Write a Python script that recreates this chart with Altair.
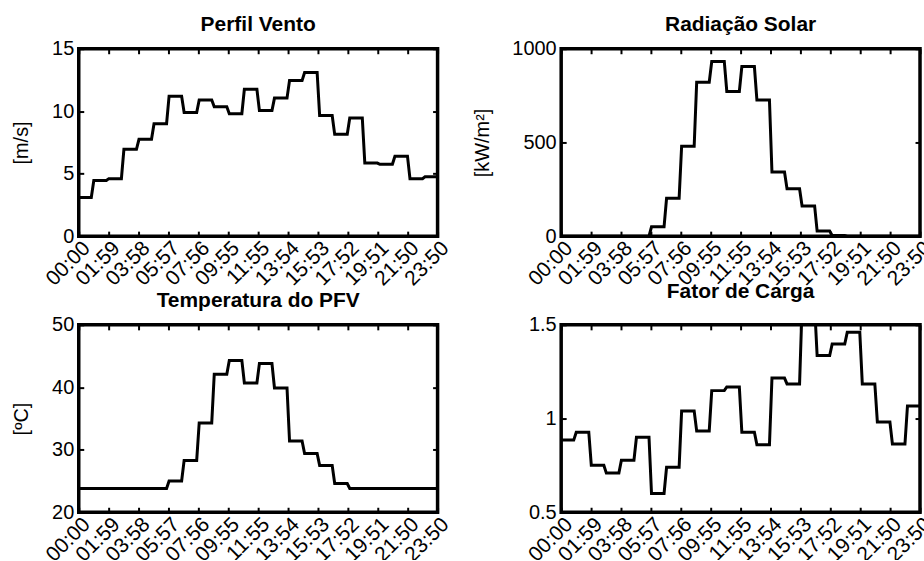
import altair as alt
import pandas as pd

# ---- data (hourly values, each held for one hour at 10-min sampling) ----
horas = list(range(24))
vento = [3.1, 4.45, 4.6, 6.95, 7.75, 9.0, 11.2, 9.9, 10.9, 10.35, 9.8, 11.75,
         10.05, 11.05, 12.45, 13.1, 9.65, 8.15, 9.45, 5.85, 5.75, 6.4, 4.6, 4.75]
radiacao = [0, 0, 0, 0, 0, 0, 50, 202, 480, 821, 932, 772,
            905, 726, 342, 253, 161, 27, 4, 0, 0, 0, 0, 0]
temperatura = [23.8, 23.8, 23.8, 23.8, 23.8, 23.8, 25.0, 28.3, 34.3, 42.1, 44.3, 40.7,
               43.8, 39.9, 31.4, 29.4, 27.5, 24.6, 23.8, 23.8, 23.8, 23.8, 23.8, 23.8]
fator = [0.885, 0.927, 0.751, 0.709, 0.778, 0.9, 0.6, 0.74, 1.04, 0.933, 1.149, 1.169,
         0.927, 0.86, 1.216, 1.185, 1.6, 1.336, 1.398, 1.46, 1.185, 0.982, 0.864, 1.067]

xtick_labels = ["00:00", "01:59", "03:58", "05:57", "07:56", "09:55", "11:55",
                "13:54", "15:53", "17:52", "19:51", "21:50", "23:50"]
xtick_values = [int(s[:2]) * 60 + int(s[3:]) for s in xtick_labels]

FONT = "Liberation Sans"
FS = 20
XFS = 21
TFS = 21
TICK = 5


def build_df(values):
    rows = []
    for h, v in zip(horas, values):
        rows.append({"minuto": h * 60, "valor": v})
        rows.append({"minuto": h * 60 + 50, "valor": v})
    return pd.DataFrame(rows)


label_expr = "[{}][indexof([{}], datum.value)]".format(
    ",".join("'%s'" % s for s in xtick_labels),
    ",".join(str(v) for v in xtick_values))


def panel(values, title, ytitle, ydomain, yticks, tpad):
    df = build_df(values)
    xs = alt.Scale(domain=[0, xtick_values[-1]], nice=False, zero=False)
    ys = alt.Scale(domain=ydomain, nice=False, zero=False)
    common = dict(grid=False, domain=False, ticks=True, tickSize=TICK, tickWidth=2,
                  tickColor="black", offset=-TICK)
    main = alt.Chart(df).mark_line(color="black", strokeWidth=3, clip=True).encode(
        x=alt.X("minuto:Q", scale=xs,
                axis=alt.Axis(orient="bottom", values=xtick_values, labelExpr=label_expr,
                              title=None, labelAngle=-45, labelAlign="right",
                              labelBaseline="top", labelPadding=1, labelFont=FONT,
                              labelFontSize=XFS, labelColor="black", labelOverlap=False,
                              labelFlush=False, minExtent=0, **common)),
        y=alt.Y("valor:Q", scale=ys,
                axis=alt.Axis(orient="left", values=yticks, title=ytitle,
                              labelExpr="'' + datum.value",
                              titleFont=FONT, titleFontSize=FS, titleFontWeight="normal",
                              titleColor="black", titlePadding=tpad,
                              labelFont=FONT, labelFontSize=FS, labelColor="black",
                              labelPadding=5, labelOverlap=False, labelFlush=False,
                              minExtent=0, **common)),
    )
    aux = alt.Chart(df).mark_line(opacity=0).encode(
        x=alt.X("minuto:Q", scale=xs,
                axis=alt.Axis(orient="top", values=xtick_values, labels=False, title=None,
                              minExtent=0, maxExtent=0, **common)),
        y=alt.Y("valor:Q", scale=ys,
                axis=alt.Axis(orient="right", values=yticks, labels=False, title=None,
                              minExtent=0, maxExtent=0, **common)),
    )
    return alt.layer(main, aux).resolve_axis(x="independent", y="independent").properties(
        width=360, height=188,
        title=alt.Title(title, font=FONT, fontSize=TFS, fontWeight="bold", color="black",
                        anchor="middle", baseline="alphabetic", offset=-13),
    )


p1 = panel(vento, "Perfil Vento", "[m/s]", [0, 15], [0, 5, 10, 15], 20)
p2 = panel(radiacao, "Radiação Solar", "[kW/m²]", [0, 1000], [0, 500, 1000], 19)
p3 = panel(temperatura, "Temperatura do PFV", "[ºC]", [20, 50], [20, 30, 40, 50], 20)
p4 = panel(fator, "Fator de Carga", None, [0.5, 1.5], [0.5, 1, 1.5], 20)

chart = alt.concat(p1, p2, p3, p4, columns=2, spacing={"row": 89, "column": 124},
                   bounds="flush").properties(
    padding={"left": 10, "top": 11, "right": -13, "bottom": -8},
    background="white",
).configure_view(stroke="black", strokeWidth=3.5)

chart.save("out.html", embed_options={"renderer": "svg", "actions": False})
